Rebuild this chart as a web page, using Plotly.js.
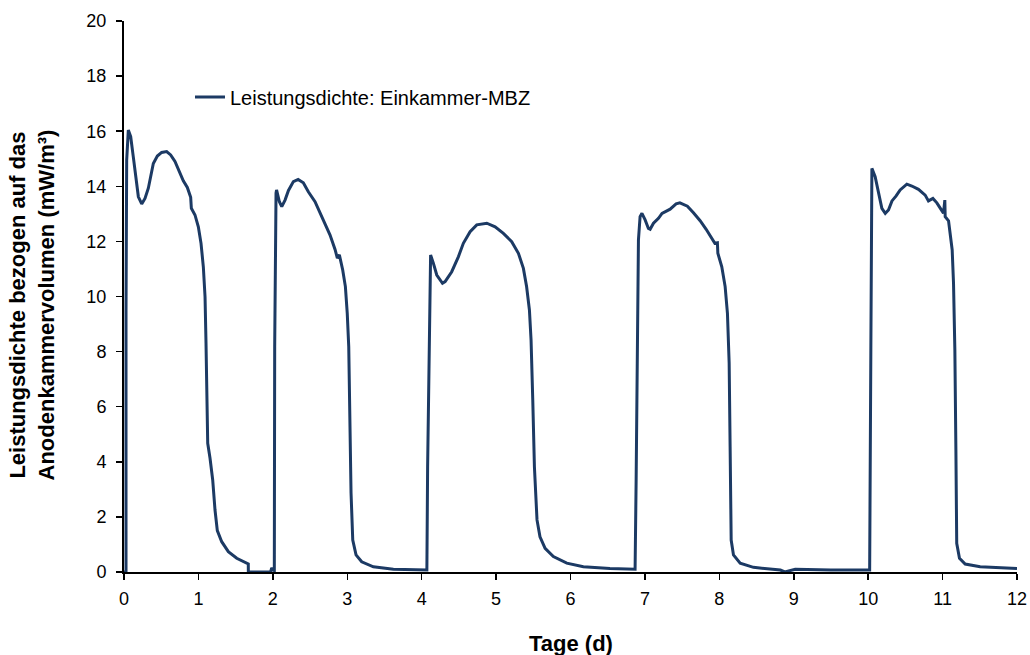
<!DOCTYPE html>
<html>
<head>
<meta charset="utf-8">
<script src="https://cdn.plot.ly/plotly-3.0.1.min.js"></script>
<style>html,body{margin:0;padding:0;background:#fff;}#chart{width:1030px;height:655px;}</style>
</head>
<body>
<div id="chart"></div>
<script>
// Tage (d)
const tage = [
  0, 0.02, 0.027, 0.027, 0.036, 0.058, 0.09, 0.125, 0.161, 0.193, 0.238, 0.282, 0.327, 0.359, 0.394, 0.448, 0.506, 0.573, 0.627, 0.685, 0.753, 0.797, 0.851, 0.896, 0.905, 0.954, 0.999, 1.035, 1.066, 1.089, 1.102, 1.111, 1.125, 1.156, 1.192, 1.223, 1.254, 1.313, 1.402, 1.515, 1.67, 1.671, 1.8, 1.97, 1.985, 2.0, 2.02,
  2.025, 2.043, 2.05, 2.088, 2.12, 2.164, 2.21, 2.276, 2.34, 2.41, 2.477, 2.567, 2.634, 2.7, 2.769, 2.836, 2.867, 2.894, 2.939, 2.975, 3.0, 3.02, 3.038, 3.051, 3.074, 3.118, 3.194, 3.351, 3.62, 4.05,
  4.07, 4.08, 4.1, 4.113, 4.12, 4.158, 4.203, 4.28, 4.315, 4.404, 4.493, 4.56, 4.651, 4.74, 4.875, 4.987, 5.098, 5.21, 5.3, 5.367, 5.41, 5.448, 5.47, 5.493, 5.515, 5.55, 5.59, 5.659, 5.77, 5.95, 6.173, 6.53, 6.868,
  6.882, 6.9, 6.913, 6.935, 6.96, 7.003, 7.047, 7.07, 7.115, 7.182, 7.23, 7.339, 7.419, 7.47, 7.571, 7.652, 7.742, 7.823, 7.899, 7.94, 7.974, 7.98, 8.033, 8.078, 8.109, 8.132, 8.145, 8.159, 8.19, 8.28, 8.458, 8.82, 8.88, 9.02, 9.5, 10.02,
  10.036, 10.044, 10.05, 10.094, 10.138, 10.184, 10.23, 10.273, 10.32, 10.376, 10.43, 10.52, 10.587, 10.676, 10.766, 10.81, 10.87, 10.923, 10.977, 11.012, 11.03, 11.035, 11.08, 11.1, 11.129, 11.147, 11.165, 11.179, 11.19, 11.227, 11.304, 11.505, 12.0
];
// Leistungsdichte (mW/m³)
const leistung = [
  0, 0, 0, 9.5, 14.95, 16.04, 15.8, 15.07, 14.23, 13.62, 13.36, 13.56, 13.93, 14.35, 14.83, 15.1, 15.23, 15.26, 15.14, 14.9, 14.47, 14.2, 13.96, 13.6, 13.2, 12.96, 12.53, 11.93, 11.08, 9.99, 8.3, 6.12, 4.67, 4.13, 3.34, 2.25, 1.5, 1.1, 0.74, 0.5, 0.29, 0, 0, 0, 0.15, 0.08, 0.05,
  8.18, 13.75, 13.87, 13.44, 13.26, 13.5, 13.85, 14.17, 14.25, 14.13, 13.8, 13.44, 13.02, 12.66, 12.23, 11.71, 11.39, 11.51, 10.96, 10.36, 9.39, 8.18, 5.27, 2.86, 1.16, 0.62, 0.37, 0.19, 0.1, 0.07,
  0.07, 3.82, 7.45, 10.48, 11.51, 11.2, 10.78, 10.48, 10.54, 10.9, 11.44, 11.93, 12.35, 12.6, 12.66, 12.53, 12.29, 11.99, 11.57, 11.02, 10.36, 9.51, 8.42, 6.24, 3.82, 1.89, 1.28, 0.86, 0.56, 0.32, 0.19, 0.13, 0.1,
  3.34, 9.39, 12.05, 12.9, 13.02, 12.78, 12.47, 12.44, 12.66, 12.84, 13.02, 13.17, 13.36, 13.4, 13.28, 13.04, 12.75, 12.44, 12.08, 11.93, 11.95, 11.57, 11.08, 10.36, 9.39, 7.58, 4.55, 1.16, 0.62, 0.32, 0.17, 0.07, 0, 0.1, 0.07, 0.07,
  8.06, 14.11, 14.65, 14.35, 13.75, 13.2, 13.02, 13.14, 13.47, 13.65, 13.87, 14.08, 14.01, 13.89, 13.68, 13.47, 13.56, 13.4, 13.17, 13.02, 13.5, 12.9, 12.75, 12.35, 11.69, 10.48, 8.06, 4.43, 1.04, 0.5, 0.29, 0.19, 0.13
];
const xTicks = [0,1,2,3,4,5,6,7,8,9,10,11,12];
const yTicks = [0,2,4,6,8,10,12,14,16,18,20];
const seriesName = 'Leistungsdichte: Einkammer-MBZ';

const trace = {
  x: tage, y: leistung, type: 'scatter', mode: 'lines', name: seriesName,
  line: {color: '#1c3a64', width: 3},
  showlegend: true
};
const font = {family: '"Liberation Sans", Arial, sans-serif', color: '#000'};
const layout = {
  width: 1030, height: 655,
  margin: {l: 124, r: 13, t: 21, b: 83},
  paper_bgcolor: '#fff', plot_bgcolor: '#fff',
  font: Object.assign({size: 18}, font),
  showlegend: true,
  legend: {x: 0.0739, y: 0.862, xanchor: 'left', yanchor: 'middle', bgcolor: 'rgba(0,0,0,0)', font: Object.assign({size: 20}, font)},
  xaxis: {
    range: [0, 12], tickvals: xTicks, ticktext: xTicks.map(String),
    showgrid: false, zeroline: false, showline: true, linecolor: '#000', linewidth: 2,
    ticks: 'outside', ticklen: 6, tickwidth: 1.5, tickcolor: '#000', ticklabelstandoff: 3,
    tickfont: Object.assign({size: 18}, font)
  },
  yaxis: {
    range: [0, 20], tickvals: yTicks, ticktext: yTicks.map(String),
    showgrid: false, zeroline: false, showline: true, linecolor: '#000', linewidth: 2,
    ticks: 'outside', ticklen: 6, tickwidth: 1.5, tickcolor: '#000', ticklabelstandoff: 6,
    tickfont: Object.assign({size: 18}, font)
  },
  annotations: [
    {text: '<b>Tage (d)</b>', xref: 'paper', yref: 'paper', x: 0.5, y: -0.13, xanchor: 'center', yanchor: 'middle', showarrow: false, font: Object.assign({size: 22}, font)},
    {text: '<b>Leistungsdichte bezogen auf das<br>Anodenkammervolumen (mW/m³)</b>', xref: 'paper', yref: 'paper', x: -0.1025, y: 0.4846, xanchor: 'center', yanchor: 'middle', textangle: -90, showarrow: false, font: Object.assign({size: 22}, font)}
  ]
};
Plotly.newPlot('chart', [trace], layout, {displayModeBar: false, staticPlot: true});
</script>
</body>
</html>
